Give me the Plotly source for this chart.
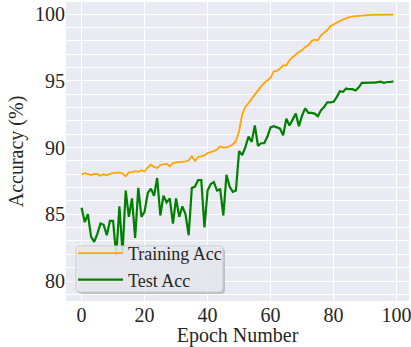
import plotly.graph_objects as go

# Epoch index
epochs = list(range(100))

# Accuracy per epoch (%)
train_acc = [
    88.00, 88.09, 88.01, 87.94, 88.03, 88.01, 87.89, 88.01, 87.92, 88.04,
    88.09, 88.11, 88.14, 88.06, 87.85, 88.14, 88.16, 88.24, 88.19, 88.31,
    88.21, 88.50, 88.72, 88.55, 88.47, 88.70, 88.74, 88.79, 88.60, 88.84,
    88.90, 88.92, 88.93, 88.97, 89.05, 89.35, 89.00, 89.30, 89.35, 89.42,
    89.59, 89.64, 89.74, 89.85, 90.10, 90.00, 90.02, 90.10, 90.24, 90.50,
    91.22, 92.50, 93.05, 93.35, 93.68, 94.00, 94.30, 94.59, 94.85, 95.05,
    95.25, 95.71, 95.75, 95.93, 96.17, 96.17, 96.55, 96.79, 97.00, 97.17,
    97.30, 97.54, 97.67, 98.00, 98.10, 98.05, 98.42, 98.60, 98.80, 99.10,
    99.25, 99.35, 99.50, 99.61, 99.72, 99.78, 99.84, 99.87, 99.90, 99.92,
    99.93, 99.94, 99.95, 99.95, 99.96, 99.96, 99.97, 99.97, 99.97, 99.98,
]

test_acc = [
    85.50, 84.41, 85.01, 83.33, 82.93, 83.53, 84.31, 84.22, 83.43, 84.51,
    84.51, 81.85, 85.60, 82.14, 86.78, 84.81, 86.19, 83.23, 86.98, 84.81,
    85.20, 86.58, 86.93, 86.39, 87.72, 84.91, 86.39, 85.89, 86.19, 84.31,
    86.19, 84.81, 85.60, 85.00, 83.43, 86.98, 87.08, 87.57, 87.57, 84.02,
    86.78, 87.27, 87.42, 86.78, 86.88, 84.91, 87.96, 87.08, 86.68, 86.78,
    89.74, 89.44, 90.04, 90.83, 90.43, 91.66, 90.14, 90.33, 90.33, 90.83,
    91.52, 91.61, 91.52, 91.42, 90.92, 92.16, 91.66, 92.16, 92.55, 91.61,
    92.40, 92.95, 92.60, 92.60, 92.55, 92.35, 92.80, 93.04, 93.39, 93.39,
    93.44, 93.79, 94.23, 94.18, 94.43, 94.38, 94.38, 94.28, 94.52, 94.85,
    94.87, 94.87, 94.87, 94.87, 94.89, 94.95, 94.85, 94.92, 94.92, 94.97,
]

x_ticks = [0, 20, 40, 60, 80, 100]
y_ticks = [80, 85, 90, 95, 100]

FONT = "Liberation Serif, Times New Roman, serif"
TEXT = "#262626"

W, H = 411, 347
M_L, M_R, M_T, M_B = 66, 2, 2, 46
PLOT_W = W - M_L - M_R
PLOT_H = H - M_T - M_B


def px_to_paper(px, py):
    """Convert a pixel position on the page to paper coordinates."""
    return (px - M_L) / PLOT_W, (H - M_B - py) / PLOT_H


def rounded_box(x0, y0, x1, y1, r):
    """SVG path (paper coords) for a rounded rectangle given in pixels."""
    pts = [
        ("M", x0 + r, y0), ("L", x1 - r, y0), ("Q", x1, y0, x1, y0 + r),
        ("L", x1, y1 - r), ("Q", x1, y1, x1 - r, y1), ("L", x0 + r, y1),
        ("Q", x0, y1, x0, y1 - r), ("L", x0, y0 + r), ("Q", x0, y0, x0 + r, y0),
    ]
    out = []
    for p in pts:
        cmd, coords = p[0], p[1:]
        pairs = []
        for i in range(0, len(coords), 2):
            u, v = px_to_paper(coords[i], coords[i + 1])
            pairs.append(f"{u:.5f},{v:.5f}")
        out.append(cmd + " ".join(pairs))
    return " ".join(out) + " Z"


fig = go.Figure()
fig.add_trace(go.Scatter(
    x=epochs, y=train_acc, mode="lines", name="Training Acc",
    line=dict(color="#FFA500", width=1.8),
))
fig.add_trace(go.Scatter(
    x=epochs, y=test_acc, mode="lines", name="Test Acc",
    line=dict(color="#008000", width=2.2),
))

# Legend frame with a soft drop shadow, drawn above the data
legend_box = (76, 246, 223, 292)
fig.add_shape(
    type="path", xref="paper", yref="paper", layer="above",
    path=rounded_box(legend_box[0] + 2, legend_box[1] + 2,
                     legend_box[2] + 2, legend_box[3] + 2, 4),
    fillcolor="rgba(90,90,90,0.3)", line=dict(width=0),
)
fig.add_shape(
    type="path", xref="paper", yref="paper", layer="above",
    path=rounded_box(*legend_box, 4),
    fillcolor="rgba(234,234,242,0.88)", line=dict(color="#CCCCCC", width=1),
)

lx, ly = px_to_paper(73, 235)
fig.update_layout(
    width=W, height=H,
    margin=dict(l=M_L, r=M_R, t=M_T, b=M_B, autoexpand=False),
    paper_bgcolor="white",
    plot_bgcolor="#EAEAF2",
    font=dict(family=FONT, size=20, color=TEXT),
    showlegend=True,
    legend=dict(
        x=lx, y=ly, xanchor="left", yanchor="top",
        bgcolor="rgba(0,0,0,0)", borderwidth=0,
        font=dict(family=FONT, size=18, color=TEXT),
        itemwidth=45, tracegroupgap=0,
    ),
)

fig.update_xaxes(
    range=[-4.95, 103.95],
    tickmode="array", tickvals=x_ticks, ticktext=[str(t) for t in x_ticks],
    ticklabeloverflow="allow",
    showgrid=True, gridcolor="white", gridwidth=1.3,
    zeroline=False, showline=False, ticks="",
    title=dict(text="Epoch Number", standoff=2, font=dict(size=20)),
    automargin=False,
)
fig.update_yaxes(
    range=[78.5, 100.92],
    tickmode="array", tickvals=y_ticks, ticktext=[str(t) for t in y_ticks],
    showgrid=True, gridcolor="white", gridwidth=1.3,
    minor=dict(dtick=1, tick0=0, showgrid=True, gridcolor="white", gridwidth=1.1),
    zeroline=False, showline=False, ticks="",
    title=dict(text="Accuracy (%)", standoff=6, font=dict(size=20)),
    automargin=False,
)

fig.write_html("out.html")
